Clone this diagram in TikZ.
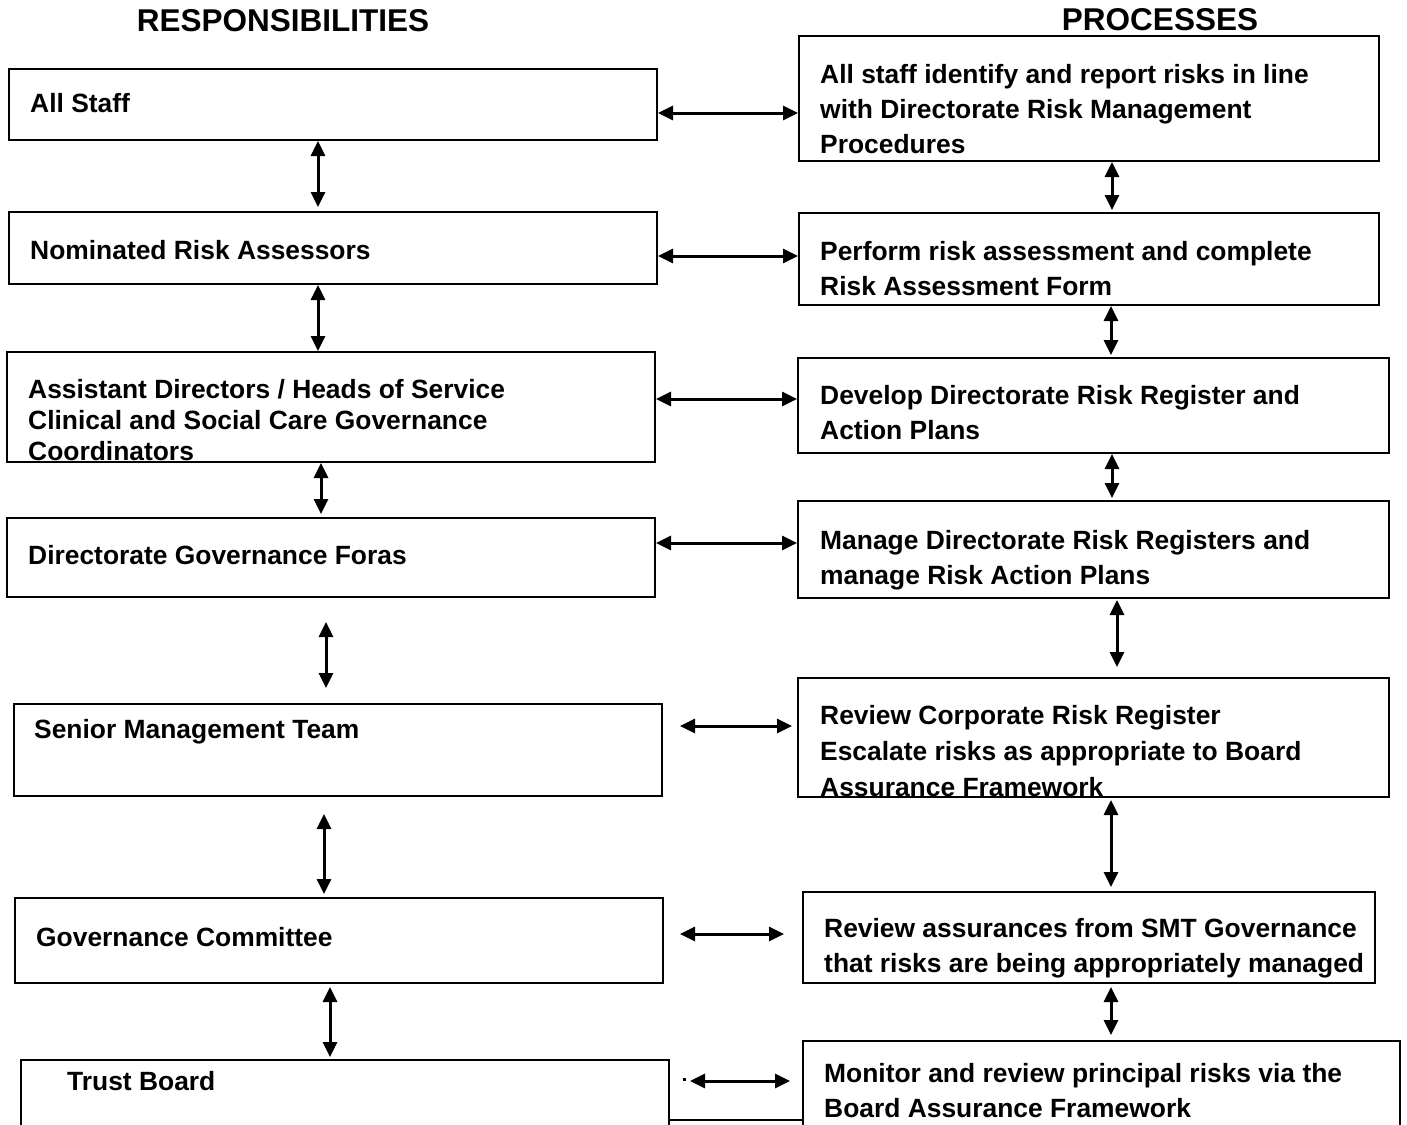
\documentclass[tikz,border=0pt]{standalone}
\usepackage{fontspec}
\setmainfont{Liberation Sans}
\usetikzlibrary{arrows.meta,calc}

\tikzset{
  box/.style={draw=black, line width=2pt, inner sep=0pt, anchor=north west},
  txt/.style={anchor=base west, inner sep=0pt, font=\fontsize{26.4}{31}\selectfont\bfseries},
  head/.style={anchor=base, inner sep=0pt, font=\fontsize{31.5}{36}\selectfont\bfseries},
  link/.style={line width=3pt, {Triangle[length=15pt,width=14pt]}-{Triangle[length=15pt,width=14pt]}},
}

% draw a box from its top-left corner and its size (y grows downwards)
\newcommand\boxat[5]{\node[box, minimum width=#4pt, minimum height=#5pt] (#1) at (#2,#3) {};}

\begin{document}
\begin{tikzpicture}[x=1pt,y=-1pt]
\useasboundingbox (0,0) rectangle (1407,1124);

% column headings
\node[head] (hresp) at (283,32) {RESPONSIBILITIES};
\node[head] (hproc) at (1160,31) {PROCESSES};

% responsibilities column
\boxat{l1}{8}{68}{648}{71}
\boxat{l2}{8}{211}{648}{72}
\boxat{l3}{6}{351}{648}{110}
\boxat{l4}{6}{517}{648}{79}
\boxat{l5}{13}{703}{648}{92}
\boxat{l6}{14}{897}{648}{85}
\boxat{l7}{20}{1059}{648}{90}

% processes column
\boxat{r1}{798}{35}{580}{125}
\boxat{r2}{798}{212}{580}{92}
\boxat{r3}{797}{357}{591}{95}
\boxat{r4}{797}{500}{591}{97}
\boxat{r5}{797}{677}{591}{119}
\boxat{r6}{802}{891}{572}{91}
\boxat{r7}{802}{1040}{597}{110}

% labels of the responsibilities
\node[txt] (tl1) at (30,112) {All Staff};
\node[txt] (tl2) at (30,259) {Nominated Risk Assessors};
\node[txt] (tl3a) at (28,398) {Assistant Directors / Heads of Service};
\node[txt] (tl3b) at (28,429) {Clinical and Social Care Governance};
\node[txt] (tl3c) at (28,460) {Coordinators};
\node[txt] (tl4) at (28,564) {Directorate Governance Foras};
\node[txt] (tl5) at (34,738) {Senior Management Team};
\node[txt] (tl6) at (36,946) {Governance Committee};
\node[txt] (tl7) at (67,1090) {Trust Board};

% labels of the processes
\node[txt] (tr1a) at (820,83) {All staff identify and report risks in line};
\node[txt] (tr1b) at (820,118) {with Directorate Risk Management};
\node[txt] (tr1c) at (820,153) {Procedures};
\node[txt] (tr2a) at (820,260) {Perform risk assessment and complete};
\node[txt] (tr2b) at (820,295) {Risk Assessment Form};
\node[txt] (tr3a) at (820,404) {Develop Directorate Risk Register and};
\node[txt] (tr3b) at (820,439) {Action Plans};
\node[txt] (tr4a) at (820,549) {Manage Directorate Risk Registers and};
\node[txt] (tr4b) at (820,584) {manage Risk Action Plans};
\node[txt] (tr5a) at (820,724) {Review Corporate Risk Register};
\node[txt] (tr5b) at (820,760) {Escalate risks as appropriate to Board};
\node[txt] (tr5c) at (820,796) {Assurance Framework};
\node[txt] (tr6a) at (824,937) {Review assurances from SMT Governance};
\node[txt] (tr6b) at (824,972) {that risks are being appropriately managed};
\node[txt] (tr7a) at (824,1082) {Monitor and review principal risks via the};
\node[txt] (tr7b) at (824,1117) {Board Assurance Framework};

% links between responsibilities and processes
\draw[link] ($(l1.north east)+(0,45)$) -- ($(r1.north west)+(0,78)$);
\draw[link] ($(l2.north east)+(0,45)$) -- ($(r2.north west)+(0,44)$);
\draw[link] ($(l3.north east)+(0,48)$) -- ($(r3.north west)+(0,42)$);
\draw[link] ($(l4.north east)+(0,26)$) -- ($(r4.north west)+(0,43)$);
\draw[link] ($(l5.north east)+(17,23)$) -- ($(r5.north west)+(-5,49)$);
\draw[link] ($(l6.north east)+(16,37)$) -- ($(r6.north west)+(-18,43)$);
\draw[link] ($(l7.north east)+(20,22)$) -- ($(r7.north west)+(-12,41)$);

% links down the responsibilities column
\draw[link] ($(l1.south west)+(310,0)$) -- ($(l2.north west)+(310,-4)$);
\draw[link] ($(l2.south west)+(310,0)$) -- ($(l3.north west)+(312,0)$);
\draw[link] ($(l3.south west)+(315,0)$) -- ($(l4.north west)+(315,-3)$);
\draw[link] ($(l4.south west)+(320,24)$) -- ($(l5.north west)+(313,-15)$);
\draw[link] ($(l5.south west)+(311,17)$) -- ($(l6.north west)+(310,-3)$);
\draw[link] ($(l6.south west)+(316,3)$) -- ($(l7.north west)+(310,-2)$);

% links down the processes column
\draw[link] ($(r1.south west)+(314,0)$) -- ($(r2.north west)+(314,-2)$);
\draw[link] ($(r2.south west)+(313,0)$) -- ($(r3.north west)+(314,-2)$);
\draw[link] ($(r3.south west)+(315,0)$) -- ($(r4.north west)+(315,-2)$);
\draw[link] ($(r4.south west)+(320,1)$) -- ($(r5.north west)+(320,-10)$);
\draw[link] ($(r5.south west)+(314,2)$) -- ($(r6.north west)+(309,-4)$);
\draw[link] ($(r6.south west)+(309,3)$) -- ($(r7.north west)+(309,-5)$);

% foot line between the two bottom boxes and the stray dot
\draw[line width=2pt] ($(l7.north east)+(0,61)$) -- ($(r7.north west)+(0,80)$);
\fill ($(l7.north east)+(13,19)$) rectangle ++(3,3);
\end{tikzpicture}
\end{document}
